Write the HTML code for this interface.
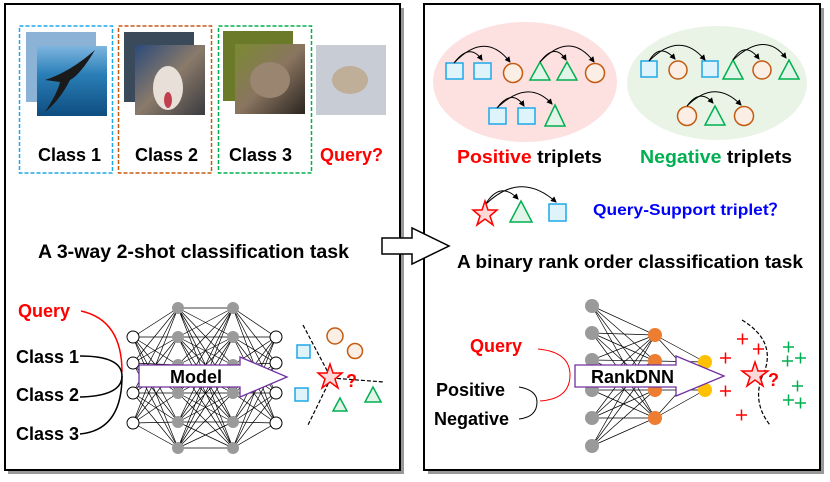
<!DOCTYPE html><html><head><style>body{margin:0;background:#fff}svg{display:block}text{font-family:"Liberation Sans",sans-serif;font-weight:bold}</style></head><body>
<svg width="830" height="482" viewBox="0 0 830 482" xmlns="http://www.w3.org/2000/svg">
<defs>
<linearGradient id="sea" x1="0" y1="0" x2="0" y2="1"><stop offset="0" stop-color="#7fb6e0"/><stop offset="0.4" stop-color="#2a7fb8"/><stop offset="1" stop-color="#0e4d80"/></linearGradient>
<linearGradient id="dog" x1="0" y1="0" x2="1" y2="1"><stop offset="0" stop-color="#2b4a7a"/><stop offset="0.5" stop-color="#8a7a6a"/><stop offset="1" stop-color="#3a3a40"/></linearGradient>
<linearGradient id="spar" x1="0" y1="0" x2="1" y2="1"><stop offset="0" stop-color="#7a8a30"/><stop offset="0.5" stop-color="#8a7560"/><stop offset="1" stop-color="#2a2520"/></linearGradient>
<marker id="ah" markerWidth="6" markerHeight="6" refX="5" refY="3" orient="auto"><path d="M0,0 L6,3 L0,6z" fill="#000"/></marker>
</defs>
<rect x="8" y="8" width="396" height="466" fill="#999"/>
<rect x="5" y="4" width="395" height="466" fill="#fff" stroke="#000" stroke-width="2"/>
<rect x="428" y="8" width="396" height="466" fill="#999"/>
<rect x="424" y="4" width="396" height="466" fill="#fff" stroke="#000" stroke-width="2"/>

<rect x="19.5" y="26" width="93" height="147" fill="none" stroke="#1ea8e8" stroke-width="1.5" stroke-dasharray="4,2"/>
<rect x="118.5" y="26" width="93" height="147" fill="none" stroke="#c55a11" stroke-width="1.5" stroke-dasharray="4,2"/>
<rect x="218.5" y="26" width="93" height="147" fill="none" stroke="#00b050" stroke-width="1.5" stroke-dasharray="4,2"/>
<rect x="26" y="32" width="70" height="70" fill="#8cb3d6"/>
<rect x="37" y="46" width="70" height="70" fill="url(#sea)"/>
<path d="M45,80 Q70,72 95,50 Q80,75 70,80 Q60,100 45,112 Q58,92 60,82z" fill="#1a1a1a"/>
<rect x="124" y="32" width="70" height="70" fill="#3a4a5a"/>
<rect x="135" y="45" width="70" height="70" fill="url(#dog)"/>
<ellipse cx="168" cy="88" rx="15" ry="22" fill="#e8e0d8"/><ellipse cx="168" cy="100" rx="4" ry="8" fill="#c04050"/>
<rect x="223" y="31" width="70" height="70" fill="#6a7a28"/>
<rect x="235" y="44" width="70" height="70" fill="url(#spar)"/>
<ellipse cx="270" cy="80" rx="20" ry="18" fill="#9a8570"/>
<rect x="316" y="45" width="70" height="70" fill="#c8ccd4"/>
<ellipse cx="350" cy="80" rx="18" ry="14" fill="#bfae98"/>
<text x="38" y="161" font-size="18">Class 1</text>
<text x="135" y="161" font-size="18">Class 2</text>
<text x="229" y="161" font-size="18">Class 3</text>
<text x="320" y="161" font-size="18" fill="#f00">Query?</text>
<text x="38" y="258" font-size="19" textLength="311" lengthAdjust="spacingAndGlyphs">A  3-way 2-shot classification task</text>

<path d="M382,238 L412,238 L412,228 L449,246 L412,264 L412,254 L382,254z" fill="#fff" stroke="#000" stroke-width="1.5"/>

<g stroke="#000" stroke-width="0.7" fill="none">
<path d="M133,337L178,308M133,337L178,337M133,337L178,365M133,337L178,393M133,337L178,422M133,337L178,448
M133,363L178,308M133,363L178,337M133,363L178,365M133,363L178,393M133,363L178,422M133,363L178,448
M133,393L178,308M133,393L178,337M133,393L178,365M133,393L178,393M133,393L178,422M133,393L178,448
M133,423L178,308M133,423L178,337M133,423L178,365M133,423L178,393M133,423L178,422M133,423L178,448"/>
<path d="M178,308L233,308M178,308L233,337M178,308L233,365M178,308L233,393M178,308L233,422M178,308L233,448
M178,337L233,308M178,337L233,337M178,337L233,365M178,337L233,393M178,337L233,422M178,337L233,448
M178,365L233,308M178,365L233,337M178,365L233,365M178,365L233,393M178,365L233,422M178,365L233,448
M178,393L233,308M178,393L233,337M178,393L233,365M178,393L233,393M178,393L233,422M178,393L233,448
M178,422L233,308M178,422L233,337M178,422L233,365M178,422L233,393M178,422L233,422M178,422L233,448
M178,448L233,308M178,448L233,337M178,448L233,365M178,448L233,393M178,448L233,422M178,448L233,448"/>
<path d="M276,337L233,308M276,337L233,337M276,337L233,365M276,337L233,393M276,337L233,422M276,337L233,448
M276,363L233,308M276,363L233,337M276,363L233,365M276,363L233,393M276,363L233,422M276,363L233,448
M276,393L233,308M276,393L233,337M276,393L233,365M276,393L233,393M276,393L233,422M276,393L233,448
M276,423L233,308M276,423L233,337M276,423L233,365M276,423L233,393M276,423L233,422M276,423L233,448"/>
</g>
<g fill="#fff" stroke="#000" stroke-width="1">
<circle cx="133" cy="337" r="6"/><circle cx="133" cy="363" r="6"/><circle cx="133" cy="393" r="6"/><circle cx="133" cy="423" r="6"/>
<circle cx="276" cy="337" r="6"/><circle cx="276" cy="363" r="6"/><circle cx="276" cy="393" r="6"/><circle cx="276" cy="423" r="6"/>
</g>
<g fill="#9a9a9a">
<circle cx="178" cy="308" r="6"/><circle cx="178" cy="337" r="6"/><circle cx="178" cy="365" r="6"/><circle cx="178" cy="393" r="6"/><circle cx="178" cy="422" r="6"/><circle cx="178" cy="448" r="6"/>
<circle cx="233" cy="308" r="6"/><circle cx="233" cy="337" r="6"/><circle cx="233" cy="365" r="6"/><circle cx="233" cy="393" r="6"/><circle cx="233" cy="422" r="6"/><circle cx="233" cy="448" r="6"/>
</g>
<path d="M139,365 L240,365 L240,357 L287,377 L240,397 L240,387 L139,387z" fill="#fff" stroke="#7030a0" stroke-width="1.3"/>
<text x="170" y="383" font-size="18">Model</text>
<text x="18" y="317" font-size="18" fill="#f00">Query</text>
<text x="16" y="363" font-size="18">Class 1</text>
<text x="16" y="401" font-size="18">Class 2</text>
<text x="16" y="440" font-size="18">Class 3</text>
<path d="M81,311 Q122,320 122,372" fill="none" stroke="#f00" stroke-width="1.5"/>
<path d="M80,356 Q122,356 122,376 Q122,396 80,397" fill="none" stroke="#000" stroke-width="1.5"/>
<path d="M80,434 Q122,430 122,376" fill="none" stroke="#000" stroke-width="1.5"/>
<g fill="none" stroke-dasharray="4,2" stroke="#000" stroke-width="1.2"><path d="M303,325 L331,378 L308,425"/><path d="M331,378 L384,382"/></g>
<rect x="297" y="345" width="13" height="13" fill="#dff3fb" stroke="#1ea8e8" stroke-width="1.5"/>
<rect x="295" y="388" width="13" height="13" fill="#dff3fb" stroke="#1ea8e8" stroke-width="1.5"/>
<circle cx="335" cy="336" r="8" fill="#fbeee4" stroke="#c55a11" stroke-width="1.5"/>
<circle cx="355" cy="351" r="7.5" fill="#fbeee4" stroke="#c55a11" stroke-width="1.5"/>
<path d="M340,398 L347,411 L333,411z" fill="#e3f5e8" stroke="#00b050" stroke-width="1.5"/>
<path d="M373,387 L381,402 L365,402z" fill="#e3f5e8" stroke="#00b050" stroke-width="1.5"/>
<path d="M330,364 L333,373 L342,373 L335,379 L338,388 L330,382 L322,388 L325,379 L318,373 L327,373z" fill="#fcd8d8" stroke="#f00" stroke-width="1.5"/>
<text x="346" y="387" font-size="18" fill="#f00">?</text>

<ellipse cx="525" cy="82" rx="92" ry="60" fill="#fde0e0"/>
<ellipse cx="717" cy="83" rx="90" ry="57" fill="#e9f4e6"/>
<g stroke-width="1.5">
<rect x="446" y="63" width="17" height="16" fill="#dff3fb" stroke="#1ea8e8"/>
<rect x="474" y="63" width="17" height="16" fill="#dff3fb" stroke="#1ea8e8"/>
<circle cx="513" cy="73" r="9.5" fill="#fbeee4" stroke="#c55a11"/>
<path d="M540,62 L550,80 L530,80z" fill="#e3f5e8" stroke="#00b050"/>
<path d="M567,62 L577,80 L557,80z" fill="#e3f5e8" stroke="#00b050"/>
<circle cx="595" cy="73" r="9.5" fill="#fbeee4" stroke="#c55a11"/>
<rect x="489" y="108" width="17" height="16" fill="#dff3fb" stroke="#1ea8e8"/>
<rect x="518" y="108" width="17" height="16" fill="#dff3fb" stroke="#1ea8e8"/>
<path d="M555,105 L565,126 L545,126z" fill="#e3f5e8" stroke="#00b050"/>
<rect x="641" y="61" width="16" height="16" fill="#dff3fb" stroke="#1ea8e8"/>
<circle cx="678" cy="70" r="9" fill="#fbeee4" stroke="#c55a11"/>
<rect x="702" y="61" width="16" height="16" fill="#dff3fb" stroke="#1ea8e8"/>
<path d="M733,60 L743,79 L723,79z" fill="#e3f5e8" stroke="#00b050"/>
<circle cx="762" cy="70" r="9" fill="#fbeee4" stroke="#c55a11"/>
<path d="M789,60 L799,79 L779,79z" fill="#e3f5e8" stroke="#00b050"/>
<circle cx="687" cy="116" r="9.5" fill="#fbeee4" stroke="#c55a11"/>
<path d="M715,106 L725,125 L705,125z" fill="#e3f5e8" stroke="#00b050"/>
<circle cx="744" cy="116" r="9.5" fill="#fbeee4" stroke="#c55a11"/>
</g>
<g fill="none" stroke="#000" stroke-width="1" marker-end="url(#ah)">
<path d="M454,63 Q470,42 482,60"/><path d="M454,63 Q485,30 510,62"/>
<path d="M540,62 Q555,42 566,60"/><path d="M540,62 Q570,30 594,62"/>
<path d="M497,108 Q512,88 524,106"/><path d="M497,108 Q528,78 552,104"/>
<path d="M649,61 Q660,42 675,59"/><path d="M649,61 Q680,30 705,60"/>
<path d="M733,60 Q745,40 759,59"/><path d="M733,60 Q765,30 786,58"/>
<path d="M687,106 Q700,88 713,103"/><path d="M687,106 Q715,78 741,105"/>
<path d="M485,205 Q500,180 518,199"/><path d="M485,205 Q520,170 556,202"/>
</g>
<text x="457" y="163" font-size="18" textLength="145" lengthAdjust="spacingAndGlyphs"><tspan fill="#f00">Positive</tspan> triplets</text>
<text x="640" y="163" font-size="18" textLength="152" lengthAdjust="spacingAndGlyphs"><tspan fill="#00b050">Negative</tspan> triplets</text>
<path d="M485,201 L488,210 L497,210 L490,216 L493,225 L485,219 L477,225 L480,216 L473,210 L482,210z" fill="#fcd8d8" stroke="#f00" stroke-width="1.5"/>
<path d="M521,201 L532,222 L510,222z" fill="#e3f5e8" stroke="#00b050" stroke-width="1.5"/>
<rect x="549" y="204" width="17" height="17" fill="#dff3fb" stroke="#1ea8e8" stroke-width="1.5"/>
<text x="593" y="215" font-size="16" fill="#0000ff" textLength="193" lengthAdjust="spacingAndGlyphs">Query-Support triplet？</text>
<text x="457" y="268" font-size="18" textLength="346" lengthAdjust="spacingAndGlyphs">A binary rank order classification task</text>

<g stroke="#000" stroke-width="0.7" fill="none">
<path d="M592,306L655,335M592,306L655,361M592,306L655,390M592,306L655,418
M592,333L655,335M592,333L655,361M592,333L655,390M592,333L655,418
M592,360L655,335M592,360L655,361M592,360L655,390M592,360L655,418
M592,390L655,335M592,390L655,361M592,390L655,390M592,390L655,418
M592,418L655,335M592,418L655,361M592,418L655,390M592,418L655,418
M592,446L655,335M592,446L655,361M592,446L655,390M592,446L655,418
M655,335L705,362M655,335L705,390M655,361L705,362M655,361L705,390M655,390L705,362M655,390L705,390M655,418L705,362M655,418L705,390"/>
</g>
<g fill="#9a9a9a"><circle cx="592" cy="306" r="7"/><circle cx="592" cy="333" r="7"/><circle cx="592" cy="360" r="7"/><circle cx="592" cy="390" r="7"/><circle cx="592" cy="418" r="7"/><circle cx="592" cy="446" r="7"/></g>
<g fill="#ed7d31"><circle cx="655" cy="335" r="7"/><circle cx="655" cy="361" r="7"/><circle cx="655" cy="390" r="7"/><circle cx="655" cy="418" r="7"/></g>
<g fill="#ffc000"><circle cx="705" cy="362" r="7"/><circle cx="705" cy="390" r="7"/></g>
<path d="M575,365 L676,365 L676,356 L724,376 L676,396 L676,387 L575,387z" fill="#fff" stroke="#7030a0" stroke-width="1.3"/>
<text x="591" y="383" font-size="18">RankDNN</text>
<text x="470" y="352" font-size="18" fill="#f00">Query</text>
<text x="436" y="396" font-size="18">Positive</text>
<text x="434" y="425" font-size="18">Negative</text>
<path d="M538,349 Q570,352 570,375 Q570,399 540,401" fill="none" stroke="#f00" stroke-width="1"/>
<path d="M519,387 Q537,390 537,402 Q537,417 519,419" fill="none" stroke="#000" stroke-width="1"/>
<path d="M742,320 Q775,340 765,370 Q750,400 770,425" fill="none" stroke="#000" stroke-width="1.2" stroke-dasharray="4,2"/>
<g fill="none" stroke-width="1.5">
<g stroke="#f00">
<path d="M737,339h11M742.5,333.5v11M753,349h11M758.5,343.5v11M720,358h11M725.5,352.5v11M720,391h11M725.5,385.5v11M736,415h11M741.5,409.5v11"/>
</g>
<g stroke="#00b050">
<path d="M783,347h11M788.5,341.5v11M782,361h11M787.5,355.5v11M795,358h11M800.5,352.5v11M792,386h11M797.5,380.5v11M783,400h11M788.5,394.5v11M795,403h11M800.5,397.5v11"/>
</g>
</g>
<path d="M755,362 L758,371 L768,371 L760,377 L763,386 L755,380 L747,386 L750,377 L742,371 L752,371z" fill="#fcd8d8" stroke="#f00" stroke-width="1.5"/>
<text x="768" y="386" font-size="18" fill="#f00">?</text>
</svg>
</body></html>
